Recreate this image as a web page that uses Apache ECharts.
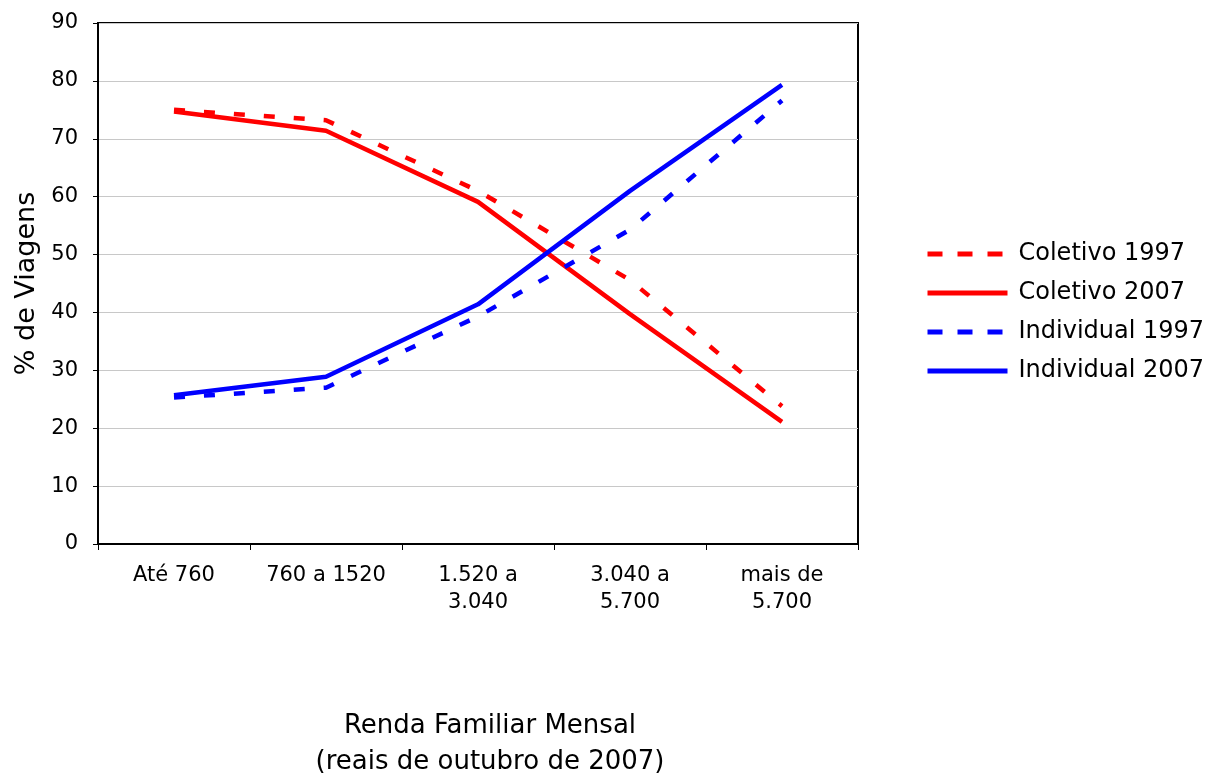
<!DOCTYPE html>
<html><head><meta charset="utf-8">
<script src="https://cdn.jsdelivr.net/npm/echarts@6/dist/echarts.min.js"></script>
<style>html,body{margin:0;padding:0;background:#fff}#c{width:1209px;height:777px}</style>
</head><body><div id="c"></div>
<script>
const categories = ["Até 760", "760 a 1520", "1.520 a\n3.040", "3.040 a\n5.700", "mais de\n5.700"];
const coletivo1997 = [75.0, 73.2, 61.0, 45.6, 23.8];
const coletivo2007 = [74.7, 71.4, 59.1, 39.7, 21.1];
const individual1997 = [25.3, 27.0, 39.3, 54.3, 76.6];
const individual2007 = [25.7, 28.9, 41.4, 61.0, 79.3];
const yTicks = [0, 10, 20, 30, 40, 50, 60, 70, 80, 90];

const font = "DejaVu Sans, Verdana, sans-serif";
const chart = echarts.init(document.getElementById('c'));
const dash = [11, 19];
function s(name, data, color, dashed) {
  return {
    name, type: 'line', data, symbol: 'none', smooth: false,
    lineStyle: {color, width: 4.5, type: dashed ? dash : 'solid'},
    itemStyle: {color}
  };
}
chart.setOption({
  animation: false,
  textStyle: {fontFamily: font},
  grid: {left: 98, right: 351, top: 23, bottom: 233, show: true, borderColor: '#000', borderWidth: 2,
         containLabel: false, outerBoundsMode: 'none'},
  legend: {
    orient: 'vertical', left: 920, top: 237, itemWidth: 80, itemHeight: 24, itemGap: 15,
    itemStyle: {opacity: 0},
    lineStyle: {width: 5},
    textStyle: {fontSize: 24, color: '#000', fontFamily: font, padding: [0,0,0,6]},
    data: [
      {name: 'Coletivo 1997', lineStyle: {type: [15, 15], width: 5}},
      {name: 'Coletivo 2007'},
      {name: 'Individual 1997', lineStyle: {type: [15, 15], width: 5}},
      {name: 'Individual 2007'}
    ]
  },
  xAxis: {
    type: 'category', data: categories, boundaryGap: true,
    axisLine: {show: true, lineStyle: {color: '#000', width: 2}},
    axisTick: {show: true, inside: false, length: 6, interval: 0, lineStyle: {color: '#000', width: 1}},
    axisLabel: {fontSize: 21, color: '#000', margin: 18, lineHeight: 27, interval: 0, fontFamily: font},
    name: 'Renda Familiar Mensal\n(reais de outubro de 2007)',
    nameLocation: 'middle', nameGap: 164,
    nameTextStyle: {fontSize: 26, color: '#000', lineHeight: 36, fontFamily: font, padding: [0, 0, 0, 24]}
  },
  yAxis: {
    type: 'value', min: 0, max: 90, interval: 10,
    axisLine: {show: true, lineStyle: {color: '#000', width: 2}},
    axisTick: {show: true, length: 5, lineStyle: {color: '#000'}},
    axisLabel: {fontSize: 21, color: '#000', margin: 20, fontFamily: font,
      formatter: v => yTicks.includes(v) ? String(v) : ''},
    splitLine: {show: true, lineStyle: {color: '#c8c8c8', width: 1}},
    name: '% de Viagens', nameLocation: 'middle', nameGap: 57, nameRotate: 90,
    nameTextStyle: {fontSize: 27, color: '#000', fontFamily: font}
  },
  series: [
    s('Coletivo 1997', coletivo1997, '#ff0000', true),
    s('Coletivo 2007', coletivo2007, '#ff0000', false),
    s('Individual 1997', individual1997, '#0000ff', true),
    s('Individual 2007', individual2007, '#0000ff', false)
  ]
});
</script></body></html>
